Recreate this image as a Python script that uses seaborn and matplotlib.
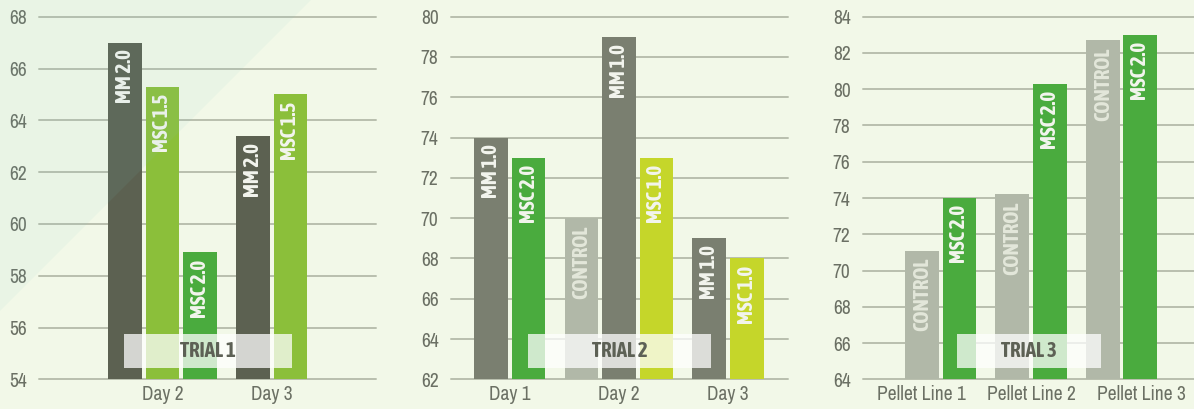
import numpy as np
import pandas as pd
import matplotlib
matplotlib.use('Agg')
import matplotlib.pyplot as plt
import seaborn as sns
from matplotlib import font_manager as fm
from matplotlib.patches import Rectangle, Polygon

sns.set_style('white')

# ---- data ----
t1_day = ['Day 2', 'Day 2', 'Day 2', 'Day 3', 'Day 3']
t1_treat = ['MM 2.0', 'MSC 1.5', 'MSC 2.0', 'MM 2.0', 'MSC 1.5']
t1_value = [67.0, 65.3, 58.9, 63.4, 65.0]

t2_day = ['Day 1', 'Day 1', 'Day 2', 'Day 2', 'Day 2', 'Day 3', 'Day 3']
t2_treat = ['MM 1.0', 'MSC 2.0', 'CONTROL', 'MM 1.0', 'MSC 1.0', 'MM 1.0', 'MSC 1.0']
t2_value = [74.0, 73.0, 70.0, 79.0, 73.0, 69.0, 68.0]

t3_line = ['Pellet Line 1', 'Pellet Line 1', 'Pellet Line 2', 'Pellet Line 2',
           'Pellet Line 3', 'Pellet Line 3']
t3_treat = ['CONTROL', 'MSC 2.0', 'CONTROL', 'MSC 2.0', 'CONTROL', 'MSC 2.0']
t3_value = [71.1, 74.0, 74.2, 80.3, 82.7, 83.0]

pal1 = {'MM 2.0': '#5c6151', 'MSC 1.5': '#8bbf3a', 'MSC 2.0': '#4aab3e'}
pal2 = {'MM 1.0': '#7a7f70', 'MSC 2.0': '#4aab3e', 'CONTROL': '#b1b8a8', 'MSC 1.0': '#c5d62a'}
pal3 = {'CONTROL': '#b1b8a8', 'MSC 2.0': '#4aab3e'}

BG = '#f2f8e8'
GRID = '#b9bfae'
TXT = '#6b7064'
GROUP_GAP = 0.41
W, H = 1194, 409

STRETCH = {'ultra-condensed': 100, 'extra-condensed': 200, 'condensed': 300,
           'semi-condensed': 400, 'normal': 500, 'semi-expanded': 600,
           'expanded': 700, 'extra-expanded': 800, 'ultra-expanded': 900}


def _stretch(f):
    s = f.stretch
    if isinstance(s, str):
        s = STRETCH.get(s, 500)
    if s == 500 and 'Narrow' in f.name:
        s = 300
    return s


def _wt(f):
    w = f.weight
    if isinstance(w, str):
        return 700 if 'bold' in w else 400
    return w


def pick_font(bold):
    # the reference uses a condensed grotesque; take the closest installed condensed face
    cands = [f for f in fm.fontManager.ttflist if _stretch(f) < 500 and f.style == 'normal']
    if not cands:
        return None
    target = 700 if bold else 400
    cands.sort(key=lambda f: (abs(_stretch(f) - 300), abs(_wt(f) - target), 'DejaVu' in f.name))
    return fm.FontProperties(fname=cands[0].fname)


FP_REG = pick_font(False)
FP_BOLD = pick_font(True)
NARROW = FP_REG is not None
if not NARROW:
    FP_REG = fm.FontProperties(family='DejaVu Sans')
    FP_BOLD = fm.FontProperties(family='DejaVu Sans', weight='bold')
TICK_SIZE = 14 if NARROW else 12
BAR_SIZE = 15 if NARROW else 11
TRIAL_SIZE = 15 if NARROW else 11


def px_rect(l, t, r, b):
    return [l / W, (H - b) / H, (r - l) / W, (b - t) / H]


def draw_panel(ax, groups, treats, values, palette, ylim, xlim, trial, box_w, label_shift=None):
    gidx = pd.factorize(pd.Series(groups))[0]
    pos = np.arange(len(values)) + gidx * GROUP_GAP
    df = pd.DataFrame({'pos': pos, 'value': values, 'treat': treats, 'group': groups})

    sns.barplot(data=df, x='pos', y='value', hue='treat', palette=palette,
                native_scale=True, dodge=False, width=0.9, saturation=1,
                legend=False, errorbar=None, linewidth=0, ax=ax)

    for p, v, t in zip(df['pos'], df['value'], df['treat']):
        col = '#e3e7da' if t == 'CONTROL' else '#f3f5ee'
        ax.annotate(t, (p, v), xytext=(0, -7), textcoords='offset pixels',
                    rotation=90, ha='center', va='top', color=col,
                    fontproperties=FP_BOLD, fontsize=BAR_SIZE)

    centers = df.groupby('group', sort=False)['pos'].mean()
    ticks = centers.values.copy()
    if label_shift is not None:
        ticks = ticks + np.array(label_shift)
    ax.set_xticks(ticks, centers.index)
    ax.set_xlim(*xlim)
    ax.set_ylim(*ylim)
    ax.set_yticks(np.arange(ylim[0], ylim[1] + 1, 2))
    ax.set_xlabel('')
    ax.set_ylabel('')
    ax.set_facecolor('none')
    ax.grid(axis='y', color=GRID, linewidth=1.4)
    ax.set_axisbelow(True)
    for gl in ax.yaxis.get_gridlines():
        gl.set_clip_on(False)
    sns.despine(ax=ax, left=True, bottom=True)
    ax.tick_params(axis='both', length=0, labelcolor=TXT)
    ax.tick_params(axis='y', pad=9)
    ax.tick_params(axis='x', pad=4)
    for lab in ax.get_xticklabels() + ax.get_yticklabels():
        lab.set_fontproperties(FP_REG)
        lab.set_fontsize(TICK_SIZE)

    # "TRIAL n" tag box
    axw = ax.get_position().width * W
    bw = box_w / axw
    ax.add_patch(Rectangle((0.5 - bw / 2, 0.031), bw, 0.094, transform=ax.transAxes,
                           facecolor='white', alpha=0.74, edgecolor='none',
                           zorder=6, clip_on=False))
    ax.text(0.5, 0.078, trial, transform=ax.transAxes, ha='center', va='center',
            fontproperties=FP_BOLD, fontsize=TRIAL_SIZE, color='#5d6155', zorder=7)


fig = plt.figure(figsize=(W / 100, H / 100), dpi=100, facecolor=BG)

ax1 = fig.add_axes(px_rect(39, 16.7, 376, 379.3))
ax2 = fig.add_axes(px_rect(451, 16.7, 788, 379.3))
ax3 = fig.add_axes(px_rect(863, 16.7, 1194, 379.3))

draw_panel(ax1, t1_day, t1_treat, t1_value, pal1, (54, 68), (-2.29, 6.69), 'TRIAL 1', 168)
draw_panel(ax2, t2_day, t2_treat, t2_value, pal2, (62, 80), (-1.07, 7.92), 'TRIAL 2', 183)
draw_panel(ax3, t3_line, t3_treat, t3_value, pal3, (64, 84), (-1.57, 7.25), 'TRIAL 3', 144,
           label_shift=[-0.5, 0.0, 0.53])

# faint diagonal tint in the top-left corner
fig.add_artist(Polygon([(0, 1), (311 / W, 1), (0, 1 - 311 / H)], closed=True,
                       transform=fig.transFigure, facecolor='#80c8c8', alpha=0.08,
                       edgecolor='none', zorder=10))

fig.savefig('out.png', dpi=100, facecolor=BG)
